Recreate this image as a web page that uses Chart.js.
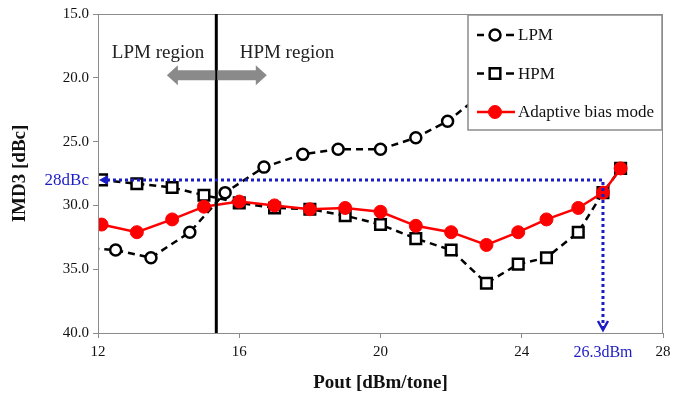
<!DOCTYPE html>
<html>
<head>
<meta charset="utf-8">
<script src="https://cdn.jsdelivr.net/npm/chart.js@4"></script>
<style>
  html, body { margin: 0; padding: 0; background: #fff; }
</style>
</head>
<body>
<canvas id="chart" width="686" height="399"></canvas>
<script>
// Pout [dBm/tone] and IMD3 [dBc]
const lpmX = [11.5, 12.5, 13.5, 14.6, 15.6, 16.7, 17.8, 18.8, 20.0, 21.0, 21.9, 23.0];
const lpmY = [33.3, 33.5, 34.1, 32.1, 29.0, 27.0, 26.0, 25.6, 25.6, 24.7, 23.4, 21.0];
const hpmX = [12.1, 13.1, 14.1, 15.0, 16.0, 17.0, 18.0, 19.0, 20.0, 21.0, 22.0, 23.0, 23.9, 24.7, 25.6, 26.3, 26.8];
const hpmY = [28.0, 28.3, 28.6, 29.2, 29.8, 30.2, 30.3, 30.8, 31.5, 32.6, 33.5, 36.1, 34.6, 34.1, 32.1, 29.0, 27.1];
const adaptX = hpmX;
const adaptY = [31.5, 32.1, 31.1, 30.1, 29.7, 30.0, 30.3, 30.2, 30.5, 31.6, 32.1, 33.1, 32.1, 31.1, 30.2, 29.0, 27.1];
const xTicks = [12, 16, 20, 24, 28];
const yTicks = [15, 20, 25, 30, 35, 40];

const refIMD = 28;      // 28dBc
const refPout = 26.3;   // 26.3dBm
const boundary = 15.35; // LPM / HPM switch point

const serif = '"Liberation Serif", "Times New Roman", serif';
const blue = '#1c1cc4';

const pts = (xs, ys) => xs.map((v, i) => ({ x: v, y: ys[i] }));

function arrow(ctx, from, to, yc, bodyH, headH, headL) {
  const dir = Math.sign(to - from);
  const neck = to - dir * headL;
  ctx.beginPath();
  ctx.moveTo(from, yc - bodyH);
  ctx.lineTo(neck, yc - bodyH);
  ctx.lineTo(neck, yc - headH);
  ctx.lineTo(to, yc);
  ctx.lineTo(neck, yc + headH);
  ctx.lineTo(neck, yc + bodyH);
  ctx.lineTo(from, yc + bodyH);
  ctx.closePath();
  ctx.fill();
}

const overlay = {
  id: 'overlay',
  afterDatasetsDraw(chart) {
    const { ctx, chartArea: a, scales: { x, y } } = chart;
    ctx.save();

    // frame
    ctx.strokeStyle = '#8c8c8c';
    ctx.lineWidth = 1;
    ctx.strokeRect(a.left + 0.5, a.top + 0.5, a.right - a.left - 1, a.bottom - a.top);

    // LPM/HPM boundary
    const bx = x.getPixelForValue(boundary);
    ctx.strokeStyle = '#000';
    ctx.lineWidth = 3;
    ctx.beginPath();
    ctx.moveTo(bx, a.top);
    ctx.lineTo(bx, a.bottom);
    ctx.stroke();

    // grey region arrows
    const ay = y.getPixelForValue(19.8);
    ctx.fillStyle = '#8a8a8a';
    arrow(ctx, bx - 1, x.getPixelForValue(13.95), ay, 5, 10, 11);
    arrow(ctx, bx + 1, x.getPixelForValue(16.78), ay, 5, 10, 11);

    ctx.fillStyle = '#222';
    ctx.font = '19px ' + serif;
    ctx.textAlign = 'center';
    ctx.textBaseline = 'middle';
    ctx.fillText('LPM region', x.getPixelForValue(13.7), y.getPixelForValue(18.06));
    ctx.fillText('HPM region', x.getPixelForValue(17.35), y.getPixelForValue(18.06));

    // blue dotted guide: 28dBc -> 26.3dBm
    const py = y.getPixelForValue(refIMD);
    const px = x.getPixelForValue(refPout);
    ctx.strokeStyle = blue;
    ctx.fillStyle = blue;
    ctx.lineWidth = 3;
    ctx.setLineDash([3, 3]);
    ctx.beginPath();
    ctx.moveTo(a.left + 9, py);
    ctx.lineTo(px, py);
    ctx.lineTo(px, a.bottom - 4);
    ctx.stroke();
    ctx.setLineDash([]);
    ctx.beginPath();
    ctx.moveTo(a.left + 1, py);
    ctx.lineTo(a.left + 10, py - 5);
    ctx.lineTo(a.left + 10, py + 5);
    ctx.closePath();
    ctx.fill();
    ctx.lineWidth = 2.5;
    ctx.beginPath();
    ctx.moveTo(px - 5, a.bottom - 12);
    ctx.lineTo(px, a.bottom - 3);
    ctx.lineTo(px + 5, a.bottom - 12);
    ctx.stroke();

    ctx.font = '17px ' + serif;
    ctx.textAlign = 'right';
    ctx.fillText('28dBc', a.left - 9, py + 1);
    ctx.font = '16px ' + serif;
    ctx.textAlign = 'center';
    ctx.fillText('26.3dBm', px, 353);

    // legend box
    const lx = a.right - 195, ly = a.top + 1, lw = 194, lh = 115;
    ctx.fillStyle = '#fff';
    ctx.fillRect(lx, ly, lw, lh);
    ctx.strokeStyle = '#8c8c8c';
    ctx.lineWidth = 1.5;
    ctx.strokeRect(lx, ly, lw, lh);

    chart.data.datasets.forEach((ds, i) => {
      const cy = ly + 20 + i * 38.5;
      ctx.strokeStyle = ds.borderColor;
      ctx.lineWidth = ds.borderWidth;
      ctx.beginPath();
      if (ds.borderDash) {
        ctx.moveTo(lx + 9, cy); ctx.lineTo(lx + 16, cy);
        ctx.moveTo(lx + 38, cy); ctx.lineTo(lx + 46, cy);
      } else {
        ctx.moveTo(lx + 9, cy); ctx.lineTo(lx + 47, cy);
      }
      ctx.stroke();
      ctx.fillStyle = ds.pointBackgroundColor;
      ctx.strokeStyle = ds.pointBorderColor;
      ctx.lineWidth = ds.pointBorderWidth;
      ctx.beginPath();
      if (ds.pointStyle === 'rect') {
        const s = ds.pointRadius * Math.SQRT1_2;
        ctx.rect(lx + 27 - s, cy - s, 2 * s, 2 * s);
      } else {
        ctx.arc(lx + 27, cy, ds.pointRadius, 0, Math.PI * 2);
      }
      ctx.fill();
      ctx.stroke();
      ctx.fillStyle = '#111';
      ctx.font = '17px ' + serif;
      ctx.textAlign = 'left';
      ctx.fillText(ds.label, lx + 50, cy + 1);
    });

    ctx.restore();
  }
};

const chart = new Chart(document.getElementById('chart'), {
  type: 'scatter',
  data: {
    datasets: [
      {
        label: 'LPM',
        order: 2,
        data: pts(lpmX, lpmY),
        showLine: true,
        borderColor: '#000',
        borderWidth: 2.5,
        borderDash: [7, 5],
        pointStyle: 'circle',
        pointRadius: 5.5,
        pointBorderWidth: 2.5,
        pointBackgroundColor: '#fff',
        pointBorderColor: '#000'
      },
      {
        label: 'HPM',
        order: 1,
        data: pts(hpmX, hpmY),
        showLine: true,
        borderColor: '#000',
        borderWidth: 2.5,
        borderDash: [7, 5],
        pointStyle: 'rect',
        pointRadius: 7.5,
        pointBorderWidth: 2.5,
        pointBackgroundColor: '#fff',
        pointBorderColor: '#000'
      },
      {
        label: 'Adaptive bias mode',
        order: 0,
        data: pts(adaptX, adaptY),
        showLine: true,
        borderColor: '#ff0000',
        borderWidth: 2.5,
        pointStyle: 'circle',
        pointRadius: 6.5,
        pointBorderWidth: 1,
        pointBackgroundColor: '#ff0000',
        pointBorderColor: '#ff0000'
      }
    ]
  },
  options: {
    responsive: false,
    animation: false,
    layout: { padding: { top: 14, right: 23, left: 0, bottom: 4 } },
    plugins: {
      legend: { display: false },
      tooltip: { enabled: false }
    },
    scales: {
      x: {
        type: 'linear',
        min: 12,
        max: 28,
        afterBuildTicks: s => { s.ticks = xTicks.map(v => ({ value: v })); },
        afterFit: s => { s.height = 62; },
        grid: { drawOnChartArea: false, tickLength: 5, color: '#8c8c8c' },
        border: { color: '#8c8c8c' },
        ticks: { font: { family: serif, size: 15 }, color: '#111', padding: 5, maxRotation: 0 },
        title: {
          display: true,
          text: 'Pout [dBm/tone]',
          font: { family: serif, size: 19, weight: 'bold' },
          color: '#111',
          padding: { top: 0, bottom: 1 }
        }
      },
      y: {
        type: 'linear',
        min: 15,
        max: 40,
        reverse: true,
        afterBuildTicks: s => { s.ticks = yTicks.map(v => ({ value: v })); },
        afterFit: s => { s.width = 98; },
        grid: { drawOnChartArea: false, tickLength: 5, color: '#8c8c8c' },
        border: { color: '#8c8c8c' },
        ticks: {
          font: { family: serif, size: 15 },
          color: '#111',
          padding: 4,
          callback: v => v.toFixed(1)
        },
        title: {
          display: true,
          text: 'IMD3 [dBc]',
          font: { family: serif, size: 19, weight: 'bold' },
          color: '#111',
          padding: { top: 9, bottom: 0 }
        }
      }
    }
  },
  plugins: [overlay]
});
</script>
</body>
</html>
